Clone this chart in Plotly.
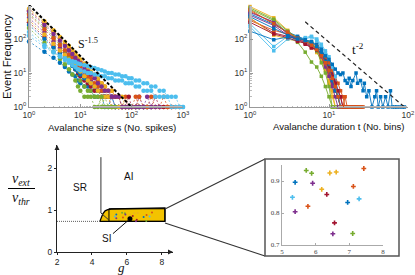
import plotly.graph_objects as go

C = {"blue": "#0072BD", "orange": "#D95319", "yellow": "#EDB120", "purple": "#7E2F8E",
     "green": "#77AC30", "lightblue": "#4DBEEE", "crimson": "#A2142F"}

# ---------------- avalanche size distributions (top-left) ----------------
sizes = [1, 2, 3, 4, 5, 6, 7, 8, 9, 10, 12, 14, 16, 19, 22, 26, 30, 35, 41, 48, 56, 65, 76, 88,
         100, 120, 140, 170, 200, 240, 290, 350, 420, 500, 600, 720, 860, 1000, 1100]

size_blue_a = [85, 42, 28, 20, 15, 11, 9, 8, 6, 5, 4, 4, 3, 2, 2, 2, 1, 1, 2, 1, 1, 1, 1, 1]
size_orange_a = [700, 290, 160, 105, 72, 55, 42, 33, 27, 22, 17, 13, 10, 8, 6, 5, 4, 3, 3, 2, 2, 1, 2, 1,
                 1, 2, 1, 1, 1, 2, 1, 1, 1, 1, 1]
size_yellow_a = [780, 330, 180, 115, 82, 62, 47, 37, 30, 25, 19, 14, 11, 9, 7, 5, 4, 3, 3, 2, 2, 2, 1, 1,
                 1, 1, 1, 1, 1]
size_purple_a = [420, 160, 85, 55, 40, 30, 23, 18, 15, 12, 9, 7, 6, 4, 3, 3, 2, 2, 2, 1, 1, 1, 1, 1,
                 1, 1, 2, 1, 1, 1]
size_green_a = [560, 220, 115, 70, 45, 30, 20, 13, 9, 6, 4, 3, 3, 2, 2, 1, 2, 1, 1, 1, 1, 1, 1, 1,
                1, 1, 1]
size_crimson_a = [310, 115, 62, 40, 28, 21, 17, 13, 10, 8, 6, 5, 4, 3, 3, 2, 2, 2, 1, 1, 1, 1, 1, 2,
                  1, 1, 1, 1, 1, 1, 2, 1, 1, 1, 1]
size_blue_b = [260, 100, 56, 37, 27, 21, 16, 13, 11, 9, 7, 6, 5, 4, 3, 3, 2, 2, 2, 1, 1, 1, 1, 1,
               1, 1, 1, 1, 1, 1]
size_orange_b = [520, 195, 105, 67, 47, 35, 28, 22, 18, 15, 11, 8, 7, 5, 4, 3, 3, 2, 2, 2, 2, 1, 1, 1,
                 1, 1, 2, 1, 1, 1, 1, 1, 2, 1, 1, 1, 1]
size_yellow_b = [360, 135, 72, 46, 34, 25, 20, 16, 13, 11, 8, 6, 5, 4, 3, 2, 2, 2, 1, 1, 1, 1, 1, 1, 1]
size_purple_b = [640, 260, 140, 90, 62, 46, 36, 28, 23, 19, 14, 11, 9, 7, 5, 4, 3, 3, 2, 2, 2, 1, 1, 1,
                 1, 1, 1, 1, 2, 1, 1, 1]
size_green_b = [210, 78, 42, 26, 18, 13, 9, 6, 4, 3, 2, 2, 2, 1, 1, 2, 1, 1, 1, 1]
size_lightblue_a = [160, 65, 42, 30, 24, 20, 17, 15, 13, 12, 11, 10, 10, 9, 9, 8, 8, 7, 7, 6, 6, 6, 5, 5,
                    5, 4, 4, 3, 3, 3, 2, 2, 2, 2, 1, 1, 1, 1, 1]
size_lightblue_b = [125, 58, 40, 32, 27, 24, 22, 21, 19, 18, 17, 16, 15, 14, 13, 12, 11, 10, 10, 9, 9, 8, 8, 7,
                    7, 6, 6, 5, 5, 4, 4, 3, 3, 2, 2, 2, 1, 1, 1]

size_series = [
    (size_blue_a, "blue"), (size_orange_a, "orange"), (size_yellow_a, "yellow"), (size_purple_a, "purple"),
    (size_green_a, "green"), (size_crimson_a, "crimson"), (size_blue_b, "blue"), (size_orange_b, "orange"),
    (size_yellow_b, "yellow"), (size_purple_b, "purple"), (size_green_b, "green"),
    (size_lightblue_a, "lightblue"), (size_lightblue_b, "lightblue"),
]

size_law_s = [1, 100]
size_law_freq = [1000, 1]

# ---------------- avalanche duration distributions (top-right) ----------------
durations_long = [1, 2, 3, 4, 5, 6, 7, 8, 9, 10, 11, 12, 13, 14, 15, 16, 17, 18, 19, 20, 22, 23, 25, 27,
                  28, 30, 32, 35, 38, 40, 42, 45, 48, 52, 56, 60, 63, 68, 72, 78, 85, 90]
dur_blue_long = [170, 95, 115, 100, 90, 85, 60, 45, 32, 25, 18, 13, 10, 9, 10, 6, 5, 7, 4, 6, 10, 5, 6, 3,
                 5, 2, 3, 1, 2, 3, 1, 2, 1, 2, 1, 3, 1, 1, 1, 1, 1, 1]

dur_orange_a = [650, 300, 150, 110, 90, 70, 55, 30, 18, 10, 6, 3, 2, 1, 1, 2, 1, 1, 1, 1, 1, 1, 1, 1, 1, 1]
dur_yellow_a = [900, 420, 180, 100, 80, 60, 40, 25, 12, 6, 3, 1, 1]
dur_purple_a = [500, 250, 130, 90, 85, 65, 50, 35, 20, 12, 5, 3, 2, 1, 1, 1]
dur_green_a = [750, 350, 150, 80, 41, 21, 15, 8, 4, 2, 1]
dur_lightblue_a = [280, 60, 120, 110, 100, 115, 90, 60, 40, 20, 10, 4, 2, 1]
dur_crimson_a = [400, 150, 120, 100, 70, 55, 50, 38, 25, 15, 10, 6, 3, 2, 1, 1, 1, 1, 1, 1, 1, 1]
dur_blue_b = [550, 270, 160, 120, 100, 80, 70, 50, 30, 18, 8, 4, 2, 1]
dur_orange_b = [350, 180, 140, 100, 95, 75, 60, 45, 30, 20, 12, 8, 5, 3, 2, 1, 1, 1, 1, 1, 1, 1, 1, 1, 1, 1, 1]
dur_yellow_b = [420, 130, 100, 85, 80, 70, 55, 30, 15, 5, 2, 1]
dur_purple_b = [600, 320, 140, 95, 80, 60, 45, 30, 15, 8, 4, 2, 1, 1]
dur_green_b = [820, 380, 170, 107, 95, 80, 45, 20, 10, 4, 1, 1]
dur_lightblue_b = [230, 45, 100, 90, 110, 120, 100, 70, 45, 30, 15, 8, 3, 1]
dur_crimson_b = [310, 140, 110, 85, 75, 55, 48, 35, 22, 14, 8, 5, 3, 2, 1, 1, 1]
dur_blue_c = [450, 200, 130, 110, 95, 70, 52, 38, 22, 12, 6, 3, 2, 1]
dur_orange_c = [720, 280, 160, 105, 88, 66, 50, 32, 20, 12, 7, 4, 2, 1, 1, 1, 1, 1]

dur_series = [
    (dur_orange_a, "orange"), (dur_yellow_a, "yellow"), (dur_purple_a, "purple"), (dur_green_a, "green"),
    (dur_lightblue_a, "lightblue"), (dur_crimson_a, "crimson"), (dur_blue_b, "blue"), (dur_orange_b, "orange"),
    (dur_yellow_b, "yellow"), (dur_purple_b, "purple"), (dur_green_b, "green"), (dur_lightblue_b, "lightblue"),
    (dur_crimson_b, "crimson"), (dur_blue_c, "blue"), (dur_orange_c, "orange"),
]

dur_law_t = [5, 90]
dur_law_freq = [320, 1]

# ---------------- phase diagram (bottom-left) ----------------
si_region_g = [4.45, 4.52, 4.62, 4.75, 4.9, 5.1, 6.5, 8.17, 8.17, 4.45]
si_region_nu = [0.73, 0.82, 0.91, 0.98, 1.01, 1.025, 1.04, 1.05, 0.73, 0.73]
sr_boundary_g = [4.51, 4.51, 4.97]
sr_boundary_nu = [2.26, 0.93, 0.76]
threshold_g = [2, 4.45]
threshold_nu = [0.73, 0.73]
zoom_box_g = [4.97, 8.17, 8.17, 4.97, 4.97]
zoom_box_nu = [0.73, 0.73, 1.03, 1.03, 0.73]
example_g = [6.17]
example_nu = [0.79]

# networks inside the SI region (inset)
net_g = [5.72, 5.88, 5.39, 5.91, 6.42, 6.61, 7.43, 6.18, 6.33, 7.12, 5.31, 6.95, 7.29, 5.77, 5.39, 6.56, 6.51, 7.10]
net_nu = [0.933, 0.924, 0.896, 0.893, 0.925, 0.928, 0.939, 0.874, 0.858, 0.883, 0.849, 0.833, 0.844, 0.821,
          0.804, 0.769, 0.735, 0.736]
net_color = ["green", "green", "blue", "purple", "yellow", "yellow", "orange", "yellow", "crimson", "orange",
             "lightblue", "blue", "lightblue", "orange", "purple", "crimson", "purple", "green"]

fig = go.Figure()

# top-left traces
for counts, col in size_series:
    fig.add_trace(go.Scatter(x=sizes[:len(counts)], y=counts, mode="lines+markers",
                             line=dict(color=C[col], width=0.7, dash="2px,2px"),
                             marker=dict(size=4.5, color=C[col]), cliponaxis=False,
                             xaxis="x", yaxis="y", showlegend=False))
fig.add_trace(go.Scatter(x=size_law_s, y=size_law_freq, mode="lines",
                         line=dict(color="black", width=2, dash="3px,2px"),
                         xaxis="x", yaxis="y", showlegend=False))

# top-right traces
for counts, col in dur_series:
    fig.add_trace(go.Scatter(x=list(range(1, len(counts) + 1)), y=counts, mode="lines+markers",
                             line=dict(color=C[col], width=0.9),
                             marker=dict(size=3.5, color=C[col], symbol="square"), cliponaxis=False,
                             xaxis="x2", yaxis="y2", showlegend=False))
fig.add_trace(go.Scatter(x=durations_long, y=dur_blue_long, mode="lines+markers",
                         line=dict(color=C["blue"], width=0.9),
                         marker=dict(size=3.5, color=C["blue"], symbol="square"), cliponaxis=False,
                         xaxis="x2", yaxis="y2", showlegend=False))
fig.add_trace(go.Scatter(x=dur_law_t, y=dur_law_freq, mode="lines",
                         line=dict(color="#222", width=1.2, dash="4px,3px"),
                         xaxis="x2", yaxis="y2", showlegend=False))

# bottom-left phase diagram
fig.add_trace(go.Scatter(x=si_region_g, y=si_region_nu, mode="lines", fill="toself", fillcolor="#F3C300",
                         line=dict(color="black", width=1.3), xaxis="x3", yaxis="y3", showlegend=False))
fig.add_trace(go.Scatter(x=zoom_box_g, y=zoom_box_nu, mode="lines", line=dict(color="black", width=1),
                         xaxis="x3", yaxis="y3", showlegend=False))
fig.add_trace(go.Scatter(x=sr_boundary_g, y=sr_boundary_nu, mode="lines", line=dict(color="#333", width=1),
                         xaxis="x3", yaxis="y3", showlegend=False))
fig.add_trace(go.Scatter(x=threshold_g, y=threshold_nu, mode="lines",
                         line=dict(color="#333", width=0.8, dash="1px,1px"),
                         xaxis="x3", yaxis="y3", showlegend=False))
fig.add_trace(go.Scatter(x=net_g, y=net_nu, mode="markers",
                         marker=dict(size=2, color=[C[c] for c in net_color]),
                         xaxis="x3", yaxis="y3", showlegend=False))
fig.add_trace(go.Scatter(x=example_g, y=example_nu, mode="markers", marker=dict(size=5, color="black"),
                         xaxis="x3", yaxis="y3", showlegend=False))

# inset
fig.add_trace(go.Scatter(x=net_g, y=net_nu, mode="markers",
                         marker=dict(size=4, symbol="cross", color=[C[c] for c in net_color]),
                         xaxis="x4", yaxis="y4", showlegend=False))

SANS = "Liberation Sans, Arial, sans-serif"
SERIF = "Liberation Serif, Times New Roman, serif"

log_common = dict(type="log", showline=True, linecolor="#999", linewidth=1, ticks="inside", ticklen=3,
                  tickcolor="#999", showgrid=False, zeroline=False, automargin=False,
                  tickfont=dict(family=SANS, size=8.5, color="#333"),
                  minor=dict(ticks="inside", ticklen=1.5, tickcolor="#bbb", showgrid=False))

lin_common = dict(showline=True, showgrid=False, zeroline=False, automargin=False)

dec_vals = [1, 10, 100, 1000]
dec_text = ["10<sup>0</sup>", "10<sup>1</sup>", "10<sup>2</sup>", "10<sup>3</sup>"]

fig.update_layout(
    template="none",
    width=415, height=275, margin=dict(l=0, r=0, t=0, b=0, pad=0),
    paper_bgcolor="white", plot_bgcolor="rgba(0,0,0,0)",
    font=dict(family=SANS, color="black"),
    xaxis=dict(domain=[29 / 415, 183 / 415], range=[0, 3], anchor="y", tickvals=dec_vals, ticktext=dec_text,
               **log_common),
    yaxis=dict(domain=[1 - 107 / 275, 1 - 5 / 275], range=[0, 3], anchor="x", tickvals=dec_vals,
               ticktext=dec_text, **log_common),
    xaxis2=dict(domain=[250 / 415, 408 / 415], range=[0, 2], anchor="y2", tickvals=dec_vals[:3],
                ticktext=dec_text[:3], **log_common),
    yaxis2=dict(domain=[1 - 107 / 275, 1 - 5 / 275], range=[0, 3], anchor="x2", tickvals=dec_vals,
                ticktext=dec_text, **log_common),
    xaxis3=dict(domain=[57 / 415, 173 / 415], range=[2, 8.63], anchor="y3", tickvals=[2, 4, 6, 8],
                linecolor="#222", linewidth=1, ticks="outside", ticklen=2, tickcolor="#222",
                tickfont=dict(family=SANS, size=8.5, color="#222"), **lin_common),
    yaxis3=dict(domain=[1 - 252 / 275, 1 - 145 / 275], range=[0, 2.55], anchor="x3", tickvals=[0, 1, 2],
                linecolor="#222", linewidth=1, ticks="outside", ticklen=2, tickcolor="#222",
                tickfont=dict(family=SANS, size=8.5, color="#222"), **lin_common),
    xaxis4=dict(domain=[282 / 415, 383 / 415], range=[5, 8], anchor="y4", tickvals=[5, 6, 7, 8],
                linecolor="#aaa", linewidth=1, ticks="inside", ticklen=2, tickcolor="#aaa",
                tickfont=dict(family=SERIF, size=7, color="#444"), **lin_common),
    yaxis4=dict(domain=[1 - 245 / 275, 1 - 165 / 275], range=[0.7, 0.95], anchor="x4",
                tickvals=[0.7, 0.8, 0.9], ticktext=["0.7", "0.8", "0.9"],
                linecolor="#aaa", linewidth=1, ticks="inside", ticklen=2, tickcolor="#aaa",
                tickfont=dict(family=SERIF, size=7, color="#444"), **lin_common),
)

# connecting lines + inset frame + fraction bar
fig.add_shape(type="line", xref="paper", yref="paper", x0=165 / 415, y0=1 - 209 / 275, x1=265 / 415,
              y1=1 - 159 / 275, line=dict(color="#333", width=1.2))
fig.add_shape(type="line", xref="paper", yref="paper", x0=165 / 415, y0=1 - 223 / 275, x1=265 / 415,
              y1=1 - 256 / 275, line=dict(color="#333", width=1.2))
fig.add_shape(type="rect", xref="paper", yref="paper", x0=265 / 415, y0=1 - 256 / 275, x1=399 / 415,
              y1=1 - 159 / 275, line=dict(color="#555", width=1.5))
fig.add_shape(type="line", xref="paper", yref="paper", x0=8 / 415, y0=1 - 188.5 / 275, x1=35 / 415,
              y1=1 - 188.5 / 275, line=dict(color="black", width=1))


def label(x, y, text, size, family=SANS, **kw):
    d = dict(xref="paper", yref="paper", x=x / 415, y=1 - y / 275, text=text, showarrow=False,
             xanchor="center", yanchor="middle", font=dict(family=family, size=size, color="#111"))
    d.update(kw)
    return d


ann = [
    label(7, 57, "Event Frequency", 11.2, textangle=-90),
    label(112, 127, "Avalanche size s (No. spikes)", 9.8),
    label(339, 126, "Avalanche duration t (No. bins)", 9.6),
    label(88, 43, "S<sup>-1.5</sup>", 12, SERIF),
    label(358, 49, "t<sup>-2</sup>", 13, SERIF),
    label(21, 179, "<i>ν<sub>ext</sub></i>", 14, SERIF),
    label(21, 198, "<i>ν<sub>thr</sub></i>", 14, SERIF),
    label(121, 267, "<i>g</i>", 13, SERIF),
]
ann.append(dict(xref="x3", yref="y3", x=3.31, y=1.53, text="SR", showarrow=False, xanchor="center",
                yanchor="middle", font=dict(family=SANS, size=10, color="#111")))
ann.append(dict(xref="x3", yref="y3", x=6.06, y=1.79, text="AI", showarrow=False, xanchor="center",
                yanchor="middle", font=dict(family=SANS, size=10, color="#111")))
ann.append(dict(xref="x3", yref="y3", x=example_g[0], y=example_nu[0], text="SI", showarrow=True,
                arrowhead=0, arrowwidth=1, arrowcolor="#111", ax=-23, ay=20, standoff=2,
                font=dict(family=SANS, size=10, color="#111")))
# axis arrowheads
ann.append(dict(xref="x3", yref="y3", x=8.63, y=0, text="", showarrow=True, arrowhead=2, arrowsize=1,
                arrowwidth=1, arrowcolor="#222", ax=-6, ay=0))
ann.append(dict(xref="x3", yref="y3", x=2, y=2.55, text="", showarrow=True, arrowhead=2, arrowsize=1,
                arrowwidth=1, arrowcolor="#222", ax=0, ay=6))
fig.update_layout(annotations=ann)

fig.write_html("out.html", config={"displayModeBar": False},
               post_script="document.body.style.margin='0px';document.body.style.overflow='hidden';")
